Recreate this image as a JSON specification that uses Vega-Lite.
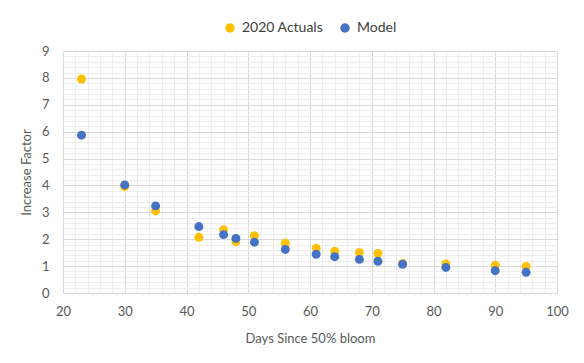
{
  "$schema": "https://vega.github.io/schema/vega-lite/v6.json",
  "width": 494,
  "height": 242,
  "autosize": {"type": "none"},
  "padding": {"left": 63, "top": 51, "right": 27, "bottom": 70},
  "background": "white",
  "config": {
    "view": {"stroke": null},
    "font": "Lato",
    "axis": {"labelFont": "Lato", "titleFont": "Lato", "labelFontSize": 13, "titleFontSize": 13, "labelColor": "#595959", "titleColor": "#595959", "titleFontWeight": "normal", "labelFlush": false},
    "legend": {"labelFont": "Lato", "labelFontSize": 14, "labelColor": "#404040"}
  },
  "data": {
    "values": [
      {"day": 23, "value": 7.96, "series": "2020 Actuals"},
      {"day": 30, "value": 3.96, "series": "2020 Actuals"},
      {"day": 35, "value": 3.06, "series": "2020 Actuals"},
      {"day": 42, "value": 2.07, "series": "2020 Actuals"},
      {"day": 46, "value": 2.35, "series": "2020 Actuals"},
      {"day": 48, "value": 1.91, "series": "2020 Actuals"},
      {"day": 51, "value": 2.13, "series": "2020 Actuals"},
      {"day": 56, "value": 1.85, "series": "2020 Actuals"},
      {"day": 61, "value": 1.66, "series": "2020 Actuals"},
      {"day": 64, "value": 1.55, "series": "2020 Actuals"},
      {"day": 68, "value": 1.51, "series": "2020 Actuals"},
      {"day": 71, "value": 1.47, "series": "2020 Actuals"},
      {"day": 75, "value": 1.1, "series": "2020 Actuals"},
      {"day": 82, "value": 1.08, "series": "2020 Actuals"},
      {"day": 90, "value": 1.03, "series": "2020 Actuals"},
      {"day": 95, "value": 0.99, "series": "2020 Actuals"},
      {"day": 23, "value": 5.87, "series": "Model"},
      {"day": 30, "value": 4.02, "series": "Model"},
      {"day": 35, "value": 3.24, "series": "Model"},
      {"day": 42, "value": 2.47, "series": "Model"},
      {"day": 46, "value": 2.17, "series": "Model"},
      {"day": 48, "value": 2.03, "series": "Model"},
      {"day": 51, "value": 1.89, "series": "Model"},
      {"day": 56, "value": 1.62, "series": "Model"},
      {"day": 61, "value": 1.44, "series": "Model"},
      {"day": 64, "value": 1.35, "series": "Model"},
      {"day": 68, "value": 1.25, "series": "Model"},
      {"day": 71, "value": 1.18, "series": "Model"},
      {"day": 75, "value": 1.07, "series": "Model"},
      {"day": 82, "value": 0.95, "series": "Model"},
      {"day": 90, "value": 0.83, "series": "Model"},
      {"day": 95, "value": 0.77, "series": "Model"}
    ]
  },
  "layer": [
    {
      "mark": {"type": "point", "filled": true, "opacity": 0},
      "encoding": {
        "x": {"field": "day", "type": "quantitative", "scale": {"domain": [20, 100], "nice": false},
          "axis": {"orient": "bottom", "values": [22,24,26,28,32,34,36,38,42,44,46,48,52,54,56,58,62,64,66,68,72,74,76,78,82,84,86,88,92,94,96,98], "grid": true, "gridColor": "#EDEDED", "labels": false, "ticks": false, "domain": false, "title": null}},
        "y": {"field": "value", "type": "quantitative", "scale": {"domain": [0, 9], "nice": false},
          "axis": {"orient": "left", "values": [0.2,0.4,0.6,0.8,1.2,1.4,1.6,1.8,2.2,2.4,2.6,2.8,3.2,3.4,3.6,3.8,4.2,4.4,4.6,4.8,5.2,5.4,5.6,5.8,6.2,6.4,6.6,6.8,7.2,7.4,7.6,7.8,8.2,8.4,8.6,8.8], "grid": true, "gridColor": "#EDEDED", "labels": false, "ticks": false, "domain": false, "title": null}}
      }
    },
    {
      "mark": {"type": "point", "filled": true, "opacity": 1, "size": 80},
      "encoding": {
        "x": {"field": "day", "type": "quantitative", "scale": {"domain": [20, 100], "nice": false},
          "axis": {"orient": "bottom", "values": [20,30,40,50,60,70,80,90,100], "grid": true, "gridColor": "#D9D9D9", "ticks": false, "domain": false, "labelPadding": 12, "title": "Days Since 50% bloom", "titlePadding": 14}},
        "y": {"field": "value", "type": "quantitative", "scale": {"domain": [0, 9], "nice": false},
          "axis": {"orient": "left", "values": [0,1,2,3,4,5,6,7,8,9], "grid": true, "gridColor": "#D9D9D9", "ticks": false, "domain": false, "labelPadding": 14, "title": "Increase Factor", "titlePadding": 8}},
        "color": {"field": "series", "type": "nominal",
          "scale": {"domain": ["2020 Actuals", "Model"], "range": ["#FFC000", "#4472C4"]},
          "legend": {"title": null, "orient": "none", "direction": "horizontal", "legendX": 160, "legendY": -30, "symbolType": "circle", "symbolSize": 90, "columnPadding": 14, "labelOffset": 5}}
      }
    }
  ],
  "resolve": {"axis": {"x": "independent", "y": "independent"}}
}
